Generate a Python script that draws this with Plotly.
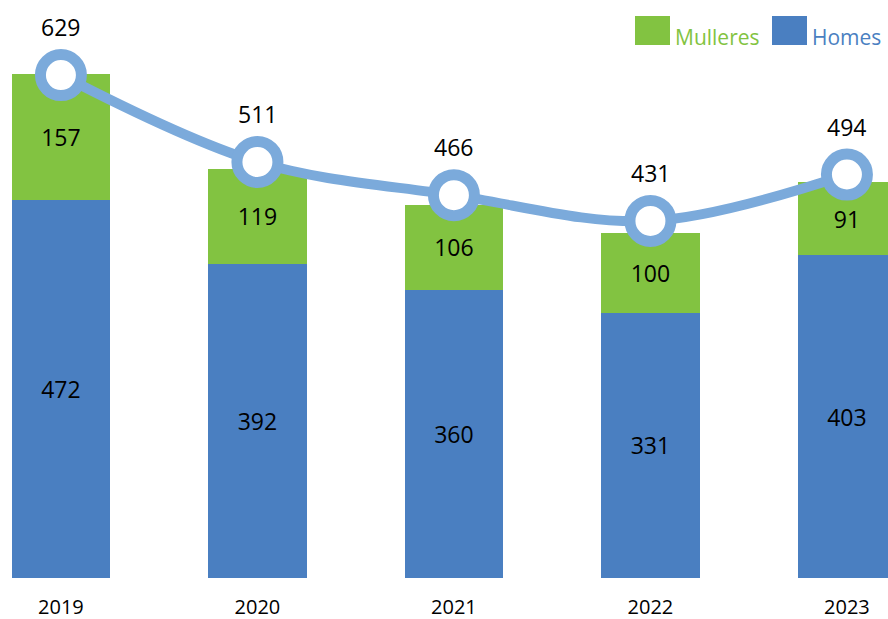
import plotly.graph_objects as go

years = ["2019", "2020", "2021", "2022", "2023"]
homes = [472, 392, 360, 331, 403]
mulleres = [157, 119, 106, 100, 91]
totals = [629, 511, 466, 431, 494]

GREEN = "#82C341"
BLUE = "#4A7FC1"
LINE = "#7BAADB"
FONT = "Open Sans"

W, H = 888, 619
T, B = 10, 41
plot_h = H - T - B

fig = go.Figure()
fig.add_trace(go.Bar(
    x=years, y=homes, name="Homes", marker=dict(color=BLUE, line=dict(width=0)),
    text=[str(v) for v in homes], textposition="inside", insidetextanchor="middle",
    textfont=dict(color="black", size=23, family=FONT), width=0.5,
    constraintext="none", hoverinfo="skip"))
fig.add_trace(go.Bar(
    x=years, y=mulleres, name="Mulleres", marker=dict(color=GREEN, line=dict(width=0)),
    text=[str(v) for v in mulleres], textposition="inside", insidetextanchor="middle",
    textfont=dict(color="black", size=23, family=FONT), width=0.5,
    constraintext="none", hoverinfo="skip"))
fig.add_trace(go.Scatter(
    x=years, y=totals, yaxis="y2", mode="lines+markers",
    line=dict(color=LINE, width=10, shape="spline", smoothing=1),
    marker=dict(size=41, color="white", line=dict(color=LINE, width=11)),
    hoverinfo="skip", showlegend=False))

for i, tot in enumerate(totals):
    fig.add_annotation(x=i, y=tot, xref="x", yref="y2", text=str(tot), showarrow=False,
                       yshift=48, font=dict(size=23, color="black", family=FONT))

# custom legend
def px_x(p):
    return p / W

def px_y(p):
    return (H - B - p) / plot_h

legend_items = [("Mulleres", GREEN, 635), ("Homes", BLUE, 772)]
for name, col, x0 in legend_items:
    fig.add_shape(type="rect", xref="paper", yref="paper",
                  x0=px_x(x0), x1=px_x(x0 + 35), y0=px_y(45), y1=px_y(16),
                  fillcolor=col, line=dict(width=0))
    fig.add_annotation(xref="paper", yref="paper", x=px_x(x0 + 38), y=px_y(37),
                       text=name, showarrow=False, xanchor="left", yanchor="middle",
                       font=dict(size=21, color=col, family=FONT))

fig.update_layout(
    width=W, height=H, barmode="stack", showlegend=False,
    margin=dict(l=0, r=0, t=T, b=B),
    plot_bgcolor="white", paper_bgcolor="white",
    font=dict(family=FONT, color="black"),
    xaxis=dict(type="category", range=[-0.31, 4.209], showgrid=False, zeroline=False,
               showline=False, tickfont=dict(size=20, color="black", family=FONT),
               ticks="", ticklen=0, ticklabelstandoff=15),
    yaxis=dict(range=[0, plot_h / 0.8008], visible=False, showgrid=False, fixedrange=True),
    yaxis2=dict(range=[-53.5, (538.6 - T) / 0.737], overlaying="y", visible=False,
                showgrid=False),
)

fig.write_html("out.html", config={"displayModeBar": False},
               post_script="document.body.style.margin='0';")
